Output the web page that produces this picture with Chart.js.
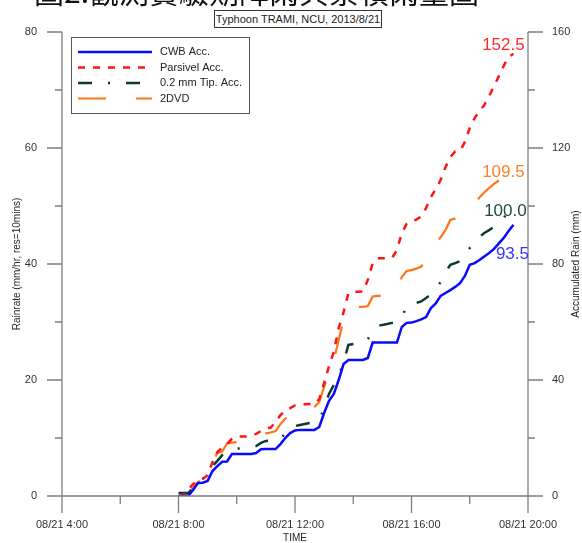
<!DOCTYPE html>
<html>
<head>
<meta charset="utf-8">
<script src="https://cdn.jsdelivr.net/npm/chart.js@4.4.0/dist/chart.umd.min.js"></script>
<style>
  body { margin: 0; background: #fff; }
  #wrap { position: relative; width: 582px; height: 543px; overflow: hidden; background: #fff; }
  #wrap canvas { position: absolute; left: 0; top: 0; }
  #caption { position: absolute; left: 34px; top: -25px; font-size: 30px; line-height: 30px;
             font-family: "Noto Sans CJK TC", sans-serif; white-space: nowrap; color: #111; }
  #title { position: absolute; left: 214px; top: 10px; width: 166px; height: 16px; border: 1px solid #333;
           font: 11px "Liberation Sans", Arial, sans-serif; text-align: center; line-height: 16px; color: #222; background: #fff; }
</style>
</head>
<body>
<div id="wrap">
  <canvas id="rainChart" width="582" height="543"></canvas>
  <div id="caption">圖2.觀測實驗期降雨與累積雨量圖</div>
  <div id="title">Typhoon TRAMI, NCU, 2013/8/21</div>
</div>
<script>
// 10 min time steps on 08/21
const timeLabels = [
  "8:00","8:10","8:20","8:30","8:40","8:50",
  "9:00","9:10","9:20","9:30","9:40","9:50",
  "10:00","10:10","10:20","10:30","10:40","10:50",
  "11:00","11:10","11:20","11:30","11:40","11:50",
  "12:00","12:10","12:20","12:30","12:40","12:50",
  "13:00","13:10","13:20","13:30","13:40","13:50",
  "14:00","14:10","14:20","14:30","14:40","14:50",
  "15:00","15:10","15:20","15:30","15:40","15:50",
  "16:00","16:10","16:20","16:30","16:40","16:50",
  "17:00","17:10","17:20","17:30","17:40","17:50",
  "18:00","18:10","18:20","18:30","18:40","18:50",
  "19:00","19:10","19:20","19:30"
];

// accumulated rain (mm)
const cwbAcc = [0,0,0,2.1,4.5,4.6,5.2,8.6,10.3,11.8,
  11.9,14.5,14.5,14.5,14.5,14.5,14.8,16.1,16.2,16.2,
  16.2,17.9,20.0,21.7,22.6,22.8,22.8,22.8,22.8,23.8,
  28.6,32.8,35.2,40.0,45.5,46.9,46.9,46.9,46.9,47.6,
  52.9,52.9,52.9,52.9,52.9,52.9,58.3,59.7,59.8,60.3,
  60.9,61.7,64.8,66.4,69.0,70.0,71.0,72.1,73.4,75.9,
  79.7,80.3,81.4,82.6,83.8,85.2,87.1,89.0,91.4,93.5];

const parsivelAcc = [0,0.3,2.1,4.1,5.2,5.9,7.2,11.7,15.2,16.6,
  17.9,19.7,20.5,20.5,20.5,20.7,21.4,22.4,23.3,23.6,
  25.5,27.9,29.5,30.3,31.2,31.4,31.6,31.7,31.7,33.4,
  39.0,44.8,49.7,57.9,63.4,70.0,70.4,70.4,70.5,74.5,
  80.3,82.0,82.0,82.0,82.1,84.8,90.7,93.8,94.8,95.3,
  96.4,99.3,103.1,105.9,109.0,113.4,116.9,118.8,119.0,122.1,
  126.9,130.3,132.8,134.8,137.9,141.4,144.8,148.3,151.4,152.5];

const tipAcc = [1.0,1.0,1.0,2.8,4.8,5.9,7.6,10.3,12.1,14.1,
  15.2,15.9,16.2,16.6,16.9,17.0,17.2,18.3,19.0,19.1,
  19.3,19.5,21.7,23.7,24.1,24.5,24.8,25.2,25.5,26.2,
  30.3,35.2,38.3,41.4,46.2,52.1,52.4,52.6,52.7,54.1,
  56.6,58.6,59.0,59.3,59.7,60.0,61.4,65.6,66.0,66.6,
  67.1,68.3,69.5,71.4,73.8,77.2,79.7,80.3,81.0,82.4,
  85.5,87.6,89.3,90.7,91.7,92.8,93.6,95.9,98.3,100.0];

const dvdAcc = [0,0,0.5,2.8,4.8,5.9,7.2,11.7,14.8,15.3,
  18.1,18.4,18.6,19.0,19.3,20.0,20.7,21.2,21.6,21.9,
  22.4,24.8,26.7,27.6,28.6,29.3,29.8,30.3,30.7,32.4,
  37.6,42.1,46.9,53.8,60.7,64.8,65.2,65.2,65.2,65.5,
  68.8,69.0,69.0,69.0,69.0,71.7,75.5,77.6,77.9,78.4,
  79.1,81.4,84.1,86.6,89.3,91.7,95.2,95.7,96.9,97.8,
  99.3,101.0,102.9,104.7,106.2,107.6,108.8,109.5,109.5,109.5];

const seriesNames = ["CWB Acc.", "Parsivel Acc.", "0.2 mm Tip. Acc.", "2DVD"];

// axis ticks
const xTickHours = [4, 8, 12, 16, 20];
const xTickLabels = ["08/21 4:00", "08/21 8:00", "08/21 12:00", "08/21 16:00", "08/21 20:00"];
const rateTicks = [0, 20, 40, 60, 80];
const accTicks = [0, 40, 80, 120, 160];

const hours = timeLabels.map(t => {
  const p = t.split(":");
  return Number(p[0]) + Number(p[1]) / 60;
});
function pts(vals) {
  return vals.map((v, i) => ({ x: hours[i], y: v }));
}

const FONT = '"Liberation Sans", Arial, sans-serif';

// offsets of the end value labels from the last point
const endLabelOffset = [[-1, 29], [-10, -8], [-8, 5], [-10, -6]];
const endLabelColor = ["#3535ff", "#ff2a2a", "#1d4a40", "#ff7f27"];

const framePlugin = {
  id: "frame",
  afterDraw(chart) {
    const ctx = chart.ctx;
    const a = chart.chartArea;
    const xs = chart.scales.x, ys = chart.scales.y, ys2 = chart.scales.y2;
    ctx.save();

    // axes + ticks
    ctx.strokeStyle = "#7d7d7d";
    ctx.lineWidth = 1.3;
    ctx.setLineDash([]);
    ctx.beginPath();
    ctx.moveTo(a.left - 15, a.bottom); ctx.lineTo(a.right + 15, a.bottom);
    ctx.moveTo(a.left, a.top); ctx.lineTo(a.left, a.bottom + 17);
    ctx.moveTo(a.right, a.top); ctx.lineTo(a.right, a.bottom + 17);
    xs.ticks.forEach(t => {
      const px = xs.getPixelForValue(t.value);
      const len = xTickHours.includes(t.value) ? 17 : 8;
      ctx.moveTo(px, a.bottom); ctx.lineTo(px, a.bottom + len);
    });
    ys.ticks.forEach(t => {
      const py = ys.getPixelForValue(t.value);
      const len = rateTicks.includes(t.value) ? 15 : 7;
      ctx.moveTo(a.left - len, py); ctx.lineTo(a.left, py);
    });
    ys2.ticks.forEach(t => {
      const py = ys2.getPixelForValue(t.value);
      const len = accTicks.includes(t.value) ? 15 : 7;
      ctx.moveTo(a.right, py); ctx.lineTo(a.right + len, py);
    });
    ctx.stroke();

    // axis titles
    ctx.fillStyle = "#222";
    ctx.font = "10px " + FONT;
    ctx.textAlign = "center";
    ctx.textBaseline = "middle";
    ctx.fillText("TIME", (a.left + a.right) / 2, 538);
    ctx.save();
    ctx.translate(17, (a.top + a.bottom) / 2);
    ctx.rotate(-Math.PI / 2);
    ctx.fillText("Rainrate (mm/hr, res=10mins)", 0, 0);
    ctx.restore();
    ctx.save();
    ctx.translate(576, (a.top + a.bottom) / 2);
    ctx.rotate(-Math.PI / 2);
    ctx.fillText("Accumulated Rain (mm)", 0, 0);
    ctx.restore();

    // legend
    ctx.fillStyle = "#fff";
    ctx.fillRect(71, 37, 178, 76);
    ctx.strokeStyle = "#555";
    ctx.lineWidth = 1;
    ctx.strokeRect(71.5, 37.5, 178, 76);
    chart.data.datasets.forEach((ds, i) => {
      const ly = 52 + i * 15.5;
      ctx.strokeStyle = ds.borderColor;
      ctx.lineWidth = ds.borderWidth;
      ctx.setLineDash(ds.borderDash || []);
      ctx.beginPath();
      ctx.moveTo(78, ly); ctx.lineTo(152, ly);
      ctx.stroke();
      ctx.setLineDash([]);
      ctx.fillStyle = "#222";
      ctx.font = "11px " + FONT;
      ctx.textAlign = "left";
      ctx.fillText(ds.label, 160, ly);
    });

    // end values
    ctx.font = "17px " + FONT;
    ctx.textAlign = "center";
    chart.data.datasets.forEach((ds, i) => {
      const meta = chart.getDatasetMeta(i);
      const last = meta.data[meta.data.length - 1];
      const val = ds.data[ds.data.length - 1].y;
      ctx.fillStyle = endLabelColor[i];
      ctx.fillText(val.toFixed(1), last.x + endLabelOffset[i][0], last.y + endLabelOffset[i][1]);
    });
    ctx.restore();
  }
};

new Chart("rainChart", {
  type: "line",
  data: {
    datasets: [
      { label: seriesNames[0], data: pts(cwbAcc), borderColor: "#0a0aff", borderWidth: 2.5, borderDash: [] },
      { label: seriesNames[1], data: pts(parsivelAcc), borderColor: "#ff1414", borderWidth: 2.5, borderDash: [7, 8] },
      { label: seriesNames[2], data: pts(tipAcc), borderColor: "#0d3b31", borderWidth: 2.5, borderDash: [14, 16, 2, 16] },
      { label: seriesNames[3], data: pts(dvdAcc), borderColor: "#ff7417", borderWidth: 2.2, borderDash: [28, 30] }
    ].map(d => Object.assign(d, { yAxisID: "y2", pointRadius: 0, tension: 0, fill: false, borderCapStyle: "butt" }))
  },
  options: {
    responsive: false,
    animation: false,
    devicePixelRatio: 1,
    events: [],
    layout: { padding: { top: 32, left: 0, right: 0, bottom: 0 } },
    plugins: { legend: { display: false }, title: { display: false }, tooltip: { enabled: false } },
    scales: {
      x: {
        type: "linear", min: 4, max: 20,
        grid: { display: false, drawTicks: false }, border: { display: false },
        ticks: {
          stepSize: 2, autoSkip: false, maxRotation: 0, padding: 22, color: "#333",
          font: { size: 11, family: FONT },
          callback: v => { const k = xTickHours.indexOf(v); return k < 0 ? "" : xTickLabels[k]; }
        },
        afterFit: s => { s.height = 47; }
      },
      y: {
        position: "left", min: 0, max: 80,
        grid: { display: false, drawTicks: false }, border: { display: false },
        ticks: {
          stepSize: 10, padding: 25, color: "#333", font: { size: 11, family: FONT },
          callback: v => rateTicks.includes(v) ? String(v) : ""
        },
        afterFit: s => { s.width = 62; }
      },
      y2: {
        position: "right", min: 0, max: 160,
        grid: { display: false, drawTicks: false }, border: { display: false },
        ticks: {
          stepSize: 20, padding: 24, color: "#333", font: { size: 11, family: FONT },
          callback: v => accTicks.includes(v) ? String(v) : ""
        },
        afterFit: s => { s.width = 54; }
      }
    }
  },
  plugins: [framePlugin]
});
</script>
</body>
</html>
